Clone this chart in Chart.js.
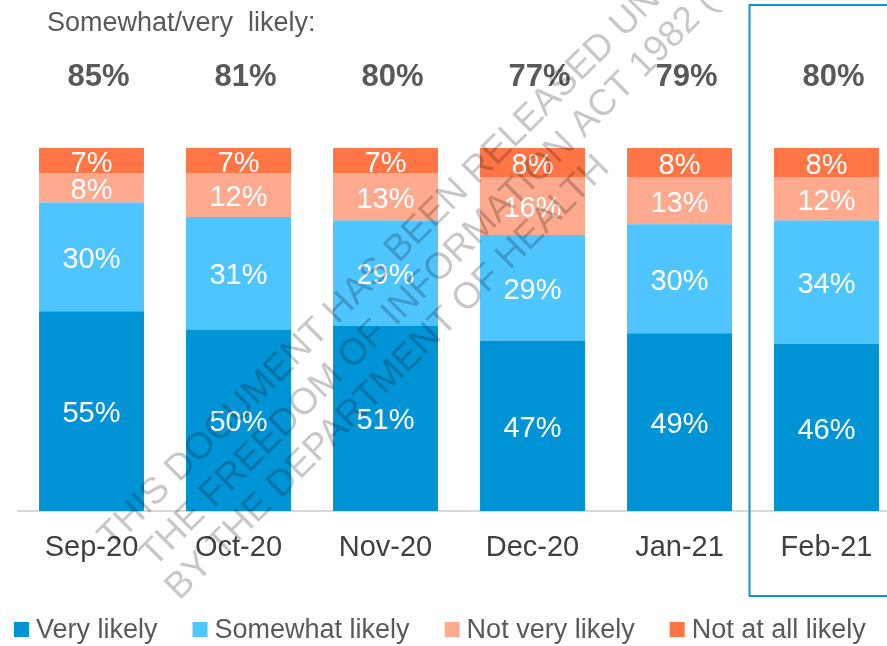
<!DOCTYPE html>
<html>
<head>
<meta charset="utf-8">
<script src="https://cdn.jsdelivr.net/npm/chart.js@4.4.1/dist/chart.umd.min.js"></script>
<style>
  html, body { margin: 0; padding: 0; background: #fff; overflow: hidden; }
  #wrap { width: 887px; height: 646px; overflow: hidden; }
</style>
</head>
<body>
<div id="wrap"><canvas id="likelyChart" width="905" height="646"></canvas></div>
<script>
const categories = ['Sep-20', 'Oct-20', 'Nov-20', 'Dec-20', 'Jan-21', 'Feb-21'];
const veryLikely = [55, 50, 51, 47, 49, 46];
const somewhatLikely = [30, 31, 29, 29, 30, 34];
const notVeryLikely = [8, 12, 13, 16, 13, 12];
const notAtAllLikely = [7, 7, 7, 8, 8, 8];
const somewhatOrVery = [85, 81, 80, 77, 79, 80];

const seriesNames = ['Very likely', 'Somewhat likely', 'Not very likely', 'Not at all likely'];
const seriesColors = ['#0094D7', '#4FC5FF', '#FFAA8E', '#FF7545'];

const FONT = '"Liberation Sans", Arial, sans-serif';
const GREY = '#595959';

const overlay = {
  id: 'overlay',
  afterDatasetsDraw(chart) {
    const ctx = chart.ctx;
    ctx.save();
    ctx.fillStyle = '#fff';
    ctx.font = '29px ' + FONT;
    ctx.textAlign = 'center';
    ctx.textBaseline = 'middle';
    chart.data.datasets.forEach((ds, i) => {
      chart.getDatasetMeta(i).data.forEach((bar, j) => {
        const p = bar.getProps(['x', 'y', 'base'], true);
        ctx.fillText(ds.data[j] + '%', p.x, (p.y + p.base) / 2 + 3);
      });
    });
    ctx.restore();
  },
  afterDraw(chart) {
    const ctx = chart.ctx;
    const xs = chart.scales.x;
    ctx.save();

    // header
    ctx.fillStyle = GREY;
    ctx.font = '27px ' + FONT;
    ctx.textAlign = 'left';
    ctx.textBaseline = 'middle';
    ctx.fillText('Somewhat/very  likely:', 47, 24);

    ctx.font = 'bold 31px ' + FONT;
    ctx.textAlign = 'center';
    somewhatOrVery.forEach((v, i) => {
      ctx.fillText(v + '%', xs.getPixelForValue(i) + 7, 77);
    });

    // highlight box around latest month
    const bx = xs.getPixelForValue(categories.length - 1) - 77;
    ctx.strokeStyle = '#0A96D6';
    ctx.lineWidth = 2;
    ctx.strokeRect(bx, 5, 200, 591);

    // legend
    ctx.font = '27px ' + FONT;
    ctx.textAlign = 'left';
    let lx = 14;
    chart.data.datasets.forEach(ds => {
      ctx.fillStyle = ds.backgroundColor;
      ctx.fillRect(lx, 622, 15, 15);
      ctx.fillStyle = GREY;
      ctx.fillText(ds.label, lx + 22, 631);
      lx += 22 + ctx.measureText(ds.label).width + 35;
    });

    // watermark
    ctx.fillStyle = 'rgba(0,0,0,0.22)';
    ctx.font = '37px ' + FONT;
    ctx.textBaseline = 'middle';
    const marks = [
      ['THIS DOCUMENT HAS BEEN RELEASED UNDER', 105, 543],
      ['THE FREEDOM OF INFORMATION ACT 1982 (C)', 147, 561],
      ['BY THE DEPARTMENT OF HEALTH', 172, 594]
    ];
    marks.forEach(m => {
      ctx.save();
      ctx.translate(m[1], m[2]);
      ctx.rotate(-Math.PI / 4);
      ctx.fillText(m[0], 0, 0);
      ctx.restore();
    });
    ctx.restore();
  }
};

new Chart(document.getElementById('likelyChart'), {
  type: 'bar',
  data: {
    labels: categories,
    datasets: [
      { label: seriesNames[0], data: veryLikely, backgroundColor: seriesColors[0] },
      { label: seriesNames[1], data: somewhatLikely, backgroundColor: seriesColors[1] },
      { label: seriesNames[2], data: notVeryLikely, backgroundColor: seriesColors[2] },
      { label: seriesNames[3], data: notAtAllLikely, backgroundColor: seriesColors[3] }
    ]
  },
  options: {
    responsive: false,
    animation: false,
    devicePixelRatio: 1,
    layout: { padding: { left: 18, right: 5, top: 148, bottom: 75 } },
    datasets: { bar: { categoryPercentage: 1, barPercentage: 0.714 } },
    plugins: {
      legend: { display: false },
      tooltip: { enabled: false },
      title: { display: false }
    },
    scales: {
      x: {
        stacked: true,
        grid: { display: false, drawTicks: false },
        border: { display: true, color: '#D9D9D9', width: 2 },
        ticks: { color: '#404040', font: { family: FONT, size: 29 }, padding: 20, maxRotation: 0 },
        afterFit(scale) { scale.height = 60; }
      },
      y: {
        stacked: true,
        display: false,
        min: 0,
        max: 100
      }
    }
  },
  plugins: [overlay]
});
</script>
</body>
</html>
